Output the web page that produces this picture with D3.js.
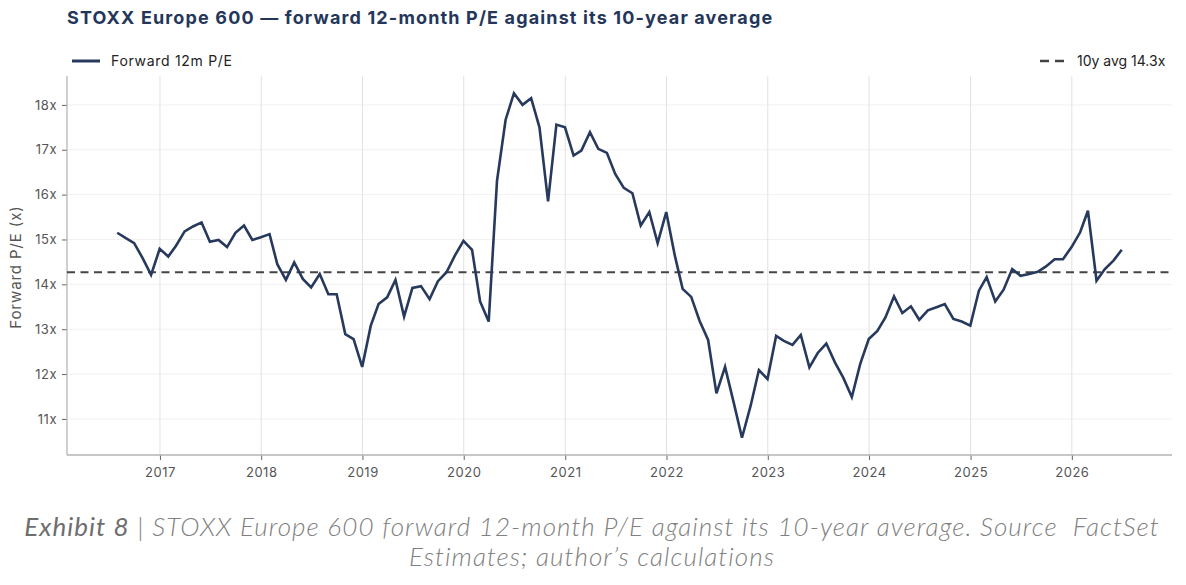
<!DOCTYPE html>
<head>
    <meta charset="utf-8">
    <title>STOXX Europe 600 forward P/E</title>
    <script src="https://cdn.jsdelivr.net/npm/d3@7"></script>
</head>

<style>
    body { margin: 0; background: white; }
    text { font-family: "Inter", "Roboto", sans-serif; }
</style>

<body>
<svg id="chart" width="1186" height="585"></svg>
</body>

<script>

    // monthly readings, Jul 2016 .. Jun 2026 (month ends)
    var firstMonth = new Date(2016, 6, 1)
    var peValues = [
        15.15, 15.03, 14.92, 14.58, 14.21, 14.79, 14.62, 14.86, 15.18, 15.29,
        15.38, 14.95, 14.99, 14.83, 15.15, 15.31, 14.99, 15.05, 15.12, 14.45,
        14.10, 14.49, 14.12, 13.93, 14.23, 13.78, 13.78, 12.89, 12.78, 12.16,
        13.08, 13.56, 13.71, 14.10, 13.28, 13.92, 13.96, 13.67, 14.07, 14.27,
        14.64, 14.97, 14.77, 13.62, 13.17, 16.31, 17.67, 18.26, 18.00, 18.15,
        17.50, 15.85, 17.56, 17.50, 16.87, 16.98, 17.39, 17.02, 16.93, 16.46,
        16.15, 16.03, 15.31, 15.61, 14.92, 15.61, 14.64, 13.90, 13.72, 13.19,
        12.76, 11.57, 12.16, 11.37, 10.58, 11.29, 12.09, 11.89, 12.85, 12.74,
        12.65, 12.87, 12.15, 12.47, 12.68, 12.26, 11.92, 11.49, 12.22, 12.78,
        12.96, 13.26, 13.73, 13.36, 13.51, 13.21, 13.42, 13.49, 13.56, 13.23,
        13.17, 13.08, 13.86, 14.16, 13.62, 13.88, 14.34, 14.19, 14.23, 14.28,
        14.40, 14.56, 14.56, 14.83, 15.16, 15.64, 14.08, 14.34, 14.53, 14.77
    ]
    var avgValue = 14.27
    var avgLabel = "10y avg 14.3x"
    var seriesLabel = "Forward 12m P/E"
    var yTicks = [11, 12, 13, 14, 15, 16, 17, 18]
    var xYears = [2017, 2018, 2019, 2020, 2021, 2022, 2023, 2024, 2025, 2026]

    var titleText = "STOXX Europe 600 \u2014 forward 12-month P/E against its 10-year average"
    var captionLead = "Exhibit 8"
    var captionLine1 = " | STOXX Europe 600 forward 12-month P/E against its 10-year average. Source\u00a0 FactSet"
    var captionLine2 = "Estimates; author\u2019s calculations"

    var navy = "#27395c"
    var plot = {left: 67, right: 1172, top: 76, bottom: 455}

    var points = peValues.map(function(v, i) {
        var m = d3.timeMonth.offset(firstMonth, i + 1)
        return {date: d3.timeDay.offset(m, -1), value: v}
    })

    // matplotlib style 5% margins
    var xExt = d3.extent(points, d => d.date)
    var xPad = (xExt[1] - xExt[0]) * 0.05
    var x = d3.scaleTime()
        .domain([new Date(+xExt[0] - xPad), new Date(+xExt[1] + xPad)])
        .range([plot.left, plot.right])

    var yExt = d3.extent(peValues)
    var yPad = (yExt[1] - yExt[0]) * 0.05
    var y = d3.scaleLinear()
        .domain([yExt[0] - yPad, yExt[1] + yPad])
        .range([plot.bottom, plot.top])

    var svg = d3.select("#chart")

    // title
    svg.append("text")
        .attr("x", 67)
        .attr("y", 24)
        .style("font-size", "18px")
        .style("font-weight", 700)
        .style("letter-spacing", "1.15px")
        .attr("fill", "#24365a")
        .text(titleText)

    // grid
    svg.append("g").selectAll("line")
        .data(yTicks)
        .enter().append("line")
        .attr("x1", plot.left).attr("x2", plot.right)
        .attr("y1", d => y(d)).attr("y2", d => y(d))
        .attr("stroke", "#f1f1f1")
        .attr("stroke-width", 1)

    var yearDates = xYears.map(yr => new Date(yr, 0, 1))
    svg.append("g").selectAll("line")
        .data(yearDates)
        .enter().append("line")
        .attr("x1", d => x(d)).attr("x2", d => x(d))
        .attr("y1", plot.top).attr("y2", plot.bottom)
        .attr("stroke", "#e2e2e2")
        .attr("stroke-width", 1)

    // axes
    var yAxis = d3.axisLeft(y)
        .tickValues(yTicks)
        .tickSize(5)
        .tickPadding(5)
        .tickFormat(d => d + "x")
    var gy = svg.append("g")
        .attr("transform", "translate(" + plot.left + ",0)")
        .call(yAxis)

    var xAxis = d3.axisBottom(x)
        .tickValues(yearDates)
        .tickSize(5)
        .tickPadding(8)
        .tickFormat(d3.timeFormat("%Y"))
    var gx = svg.append("g")
        .attr("transform", "translate(0," + plot.bottom + ")")
        .call(xAxis)

    gy.select(".domain").remove()
    gx.select(".domain").remove()
    for (var g of [gx, gy]) {
        g.selectAll("text")
            .style("font-family", "Inter, Roboto, sans-serif")
            .style("font-size", "13px")
            .style("letter-spacing", "0.5px")
            .attr("fill", "#555")
        g.selectAll(".tick line").attr("stroke", "#666")
    }

    svg.append("line")
        .attr("x1", plot.left).attr("x2", plot.left)
        .attr("y1", plot.top).attr("y2", plot.bottom)
        .attr("stroke", "#b5b5b5").attr("stroke-width", 1.3)
    svg.append("line")
        .attr("x1", plot.left).attr("x2", plot.right)
        .attr("y1", plot.bottom).attr("y2", plot.bottom)
        .attr("stroke", "#b5b5b5").attr("stroke-width", 1.3)

    svg.append("text")
        .attr("transform", "translate(21," + 267 + ") rotate(-90)")
        .attr("text-anchor", "middle")
        .style("font-size", "15px")
        .style("letter-spacing", "0.9px")
        .attr("fill", "#555")
        .text("Forward P/E (x)")

    // average line
    svg.append("line")
        .attr("x1", plot.left).attr("x2", plot.right)
        .attr("y1", y(avgValue)).attr("y2", y(avgValue))
        .attr("stroke", "#444")
        .attr("stroke-width", 2.2)
        .attr("stroke-dasharray", "8,5.5")

    // series
    var line = d3.line()
        .x(d => x(d.date))
        .y(d => y(d.value))
    svg.append("path")
        .datum(points)
        .attr("d", line)
        .attr("fill", "none")
        .attr("stroke", navy)
        .attr("stroke-width", 2.6)
        .attr("stroke-linejoin", "miter")

    // legend
    svg.append("line")
        .attr("x1", 72).attr("x2", 100).attr("y1", 61).attr("y2", 61)
        .attr("stroke", navy).attr("stroke-width", 3)
    svg.append("text")
        .attr("x", 111).attr("y", 66)
        .style("font-size", "14px")
        .style("letter-spacing", "0.7px")
        .attr("fill", "#222")
        .text(seriesLabel)

    svg.append("line")
        .attr("x1", 1040).attr("x2", 1064).attr("y1", 61).attr("y2", 61)
        .attr("stroke", "#444").attr("stroke-width", 2.6)
        .attr("stroke-dasharray", "9,6")
    svg.append("text")
        .attr("x", 1077).attr("y", 66)
        .style("font-size", "14px")
        .attr("fill", "#222")
        .text(avgLabel)

    // caption
    var capStyle = function(t) {
        t.attr("text-anchor", "middle")
            .style("font-family", "Lato, sans-serif")
            .style("font-style", "italic")
            .style("font-size", "26px")
            .style("font-weight", 300)
            .style("letter-spacing", "1.05px")
            .attr("fill", "#808080")
    }
    var cap = svg.append("text")
        .attr("x", 592).attr("y", 536)
        .call(capStyle)
    cap.append("tspan")
        .style("font-weight", 400)
        .attr("fill", "#6e6e6e")
        .text(captionLead)
    cap.append("tspan").text(captionLine1)

    svg.append("text")
        .attr("x", 592).attr("y", 566)
        .call(capStyle)
        .text(captionLine2)

</script>

</html>
